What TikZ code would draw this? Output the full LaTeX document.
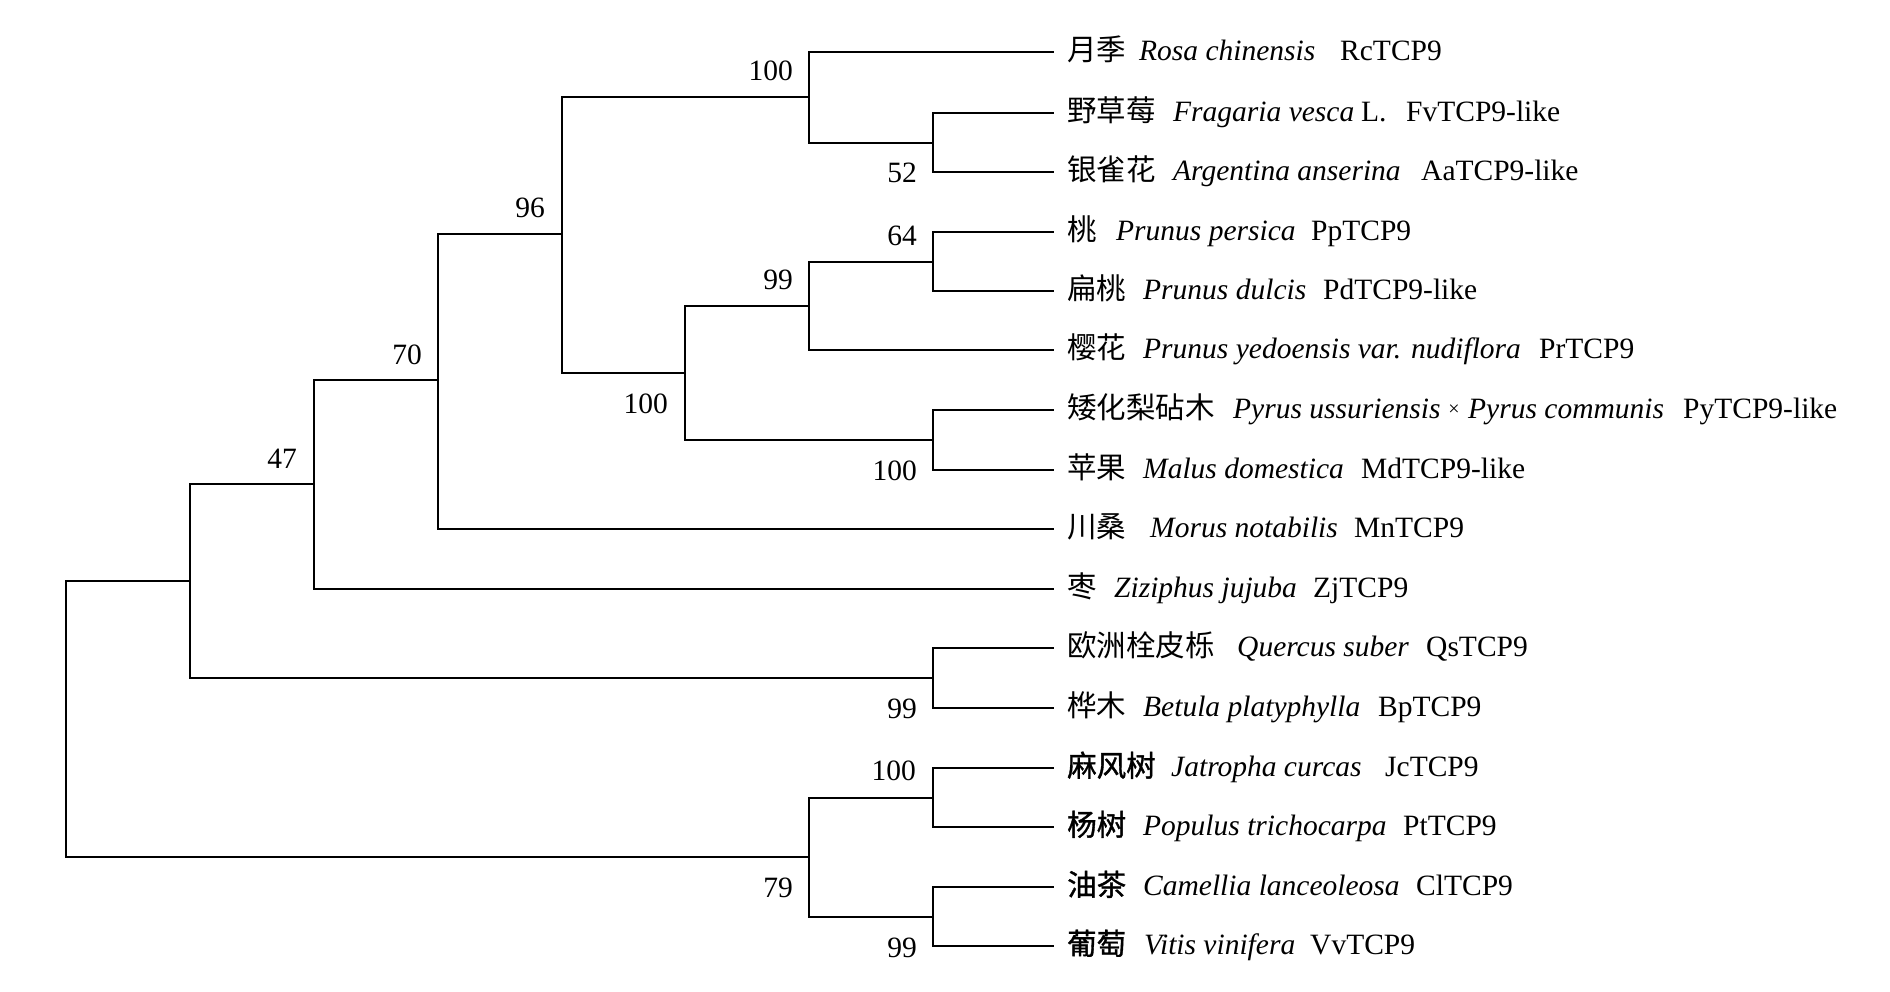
\documentclass[tikz,border=0pt]{standalone}
\usepackage{fontspec}
\setmainfont{Liberation Serif}
\newfontfamily\cjk{Noto Sans CJK SC}
\newfontfamily\cjkb{Noto Sans CJK SC}[FakeBold=1.2]
\tikzset{
  br/.style={line width=2pt, line join=miter, line cap=rect},
  lab/.style={inner sep=0pt, anchor=base west, font=\fontsize{29.5}{32}\selectfont},
  sp/.style={inner sep=0pt, anchor=base west, font=\fontsize{29.5}{32}\selectfont\itshape},
  boot/.style={inner sep=0pt, anchor=base east, font=\fontsize{29.5}{32}\selectfont},
}
\newcommand\leafrow[8]{%
  \node[lab] (c#1) at (1067,#2+8.5) {#3#4};
  \node[sp] (s#1) at (#5,#2+8.5) {#6};
  \node[lab] (g#1) at (#7,#2+8.5) {#8};
}
\begin{document}
\begin{tikzpicture}[x=1pt,y=-1pt]
\useasboundingbox[fill=white] (0,0) rectangle (1890,991);
% internal nodes
\coordinate (root) at (66,719);
\coordinate (nA) at (190,581);
\coordinate (n47) at (314,484);
\coordinate (n70) at (438,380);
\coordinate (n96) at (562,234);
\coordinate (n100a) at (809,97);
\coordinate (n52) at (933,142.5);
\coordinate (n100b) at (685,373);
\coordinate (n99a) at (809,305.5);
\coordinate (n64) at (933,261.5);
\coordinate (n100c) at (933,440);
\coordinate (n99q) at (933,678);
\coordinate (n79) at (809,857);
\coordinate (n100j) at (933,797.5);
\coordinate (n99v) at (933,916.5);
% leaf ends
\foreach \i/\y in {1/52,2/113,3/172,4/232,5/291,6/350,7/410,8/470,9/529,10/589,11/648,12/708,13/768,14/827,15/887,16/946}
  \coordinate (t\i) at (1053,\y);
% branches
\foreach \p/\c in {root/nA,root/n79,nA/n47,nA/n99q,n47/n70,n47/t10,n70/n96,n70/t9,
  n96/n100a,n96/n100b,n100a/t1,n100a/n52,n52/t2,n52/t3,n100b/n99a,n100b/n100c,
  n99a/n64,n99a/t6,n64/t4,n64/t5,n100c/t7,n100c/t8,n99q/t11,n99q/t12,
  n79/n100j,n79/n99v,n100j/t13,n100j/t14,n99v/t15,n99v/t16}
  \draw[br] (\p) |- (\c);
% bootstrap values
\node[boot] (b1) at (793,80.7) {100};
\node[boot] (b2) at (917,182.7) {52};
\node[boot] (b3) at (545,217) {96};
\node[boot] (b4) at (917,245) {64};
\node[boot] (b5) at (793,289) {99};
\node[boot] (b6) at (668,413) {100};
\node[boot] (b7) at (422,364) {70};
\node[boot] (b8) at (297,468) {47};
\node[boot] (b9) at (917,480) {100};
\node[boot] (b10) at (917,718.7) {99};
\node[boot] (b11) at (916,780) {100};
\node[boot] (b12) at (793,897.7) {79};
\node[boot] (b13) at (917,957.7) {99};
% leaf labels
\leafrow{1}{52}{\cjk}{月季}{1139}{Rosa chinensis}{1340}{RcTCP9}
\leafrow{2}{113}{\cjk}{野草莓}{1173}{Fragaria vesca}{1406}{FvTCP9-like}
\node[lab] (x2) at (1361,121.5) {L.};
\leafrow{3}{172}{\cjk}{银雀花}{1173}{Argentina anserina}{1421}{AaTCP9-like}
\leafrow{4}{232}{\cjk}{桃}{1116}{Prunus persica}{1311}{PpTCP9}
\leafrow{5}{291}{\cjk}{扁桃}{1143}{Prunus dulcis}{1323}{PdTCP9-like}
\leafrow{6}{350}{\cjk}{樱花}{1143}{Prunus yedoensis var. nudiflora}{1539}{PrTCP9}
\leafrow{7}{410}{\cjk}{矮化梨砧木}{1233}{Pyrus ussuriensis}{1683}{PyTCP9-like}
\node[inner sep=0pt, font=\fontsize{20}{22}\selectfont] (x7) at (1454,410) {×};
\node[sp] (y7) at (1468,418.5) {Pyrus communis};
\leafrow{8}{470}{\cjk}{苹果}{1143}{Malus domestica}{1361}{MdTCP9-like}
\leafrow{9}{529}{\cjk}{川桑}{1150}{Morus notabilis}{1354}{MnTCP9}
\leafrow{10}{589}{\cjk}{枣}{1114}{Ziziphus jujuba}{1313}{ZjTCP9}
\leafrow{11}{648}{\cjk}{欧洲栓皮栎}{1237}{Quercus suber}{1426}{QsTCP9}
\leafrow{12}{708}{\cjk}{桦木}{1143}{Betula platyphylla}{1378}{BpTCP9}
\leafrow{13}{768}{\cjkb}{麻风树}{1171}{Jatropha curcas}{1385}{JcTCP9}
\leafrow{14}{827}{\cjkb}{杨树}{1143}{Populus trichocarpa}{1403}{PtTCP9}
\leafrow{15}{887}{\cjkb}{油茶}{1143}{Camellia lanceoleosa}{1416}{ClTCP9}
\leafrow{16}{946}{\cjkb}{葡萄}{1144}{Vitis vinifera}{1310}{VvTCP9}
\end{tikzpicture}
\end{document}
